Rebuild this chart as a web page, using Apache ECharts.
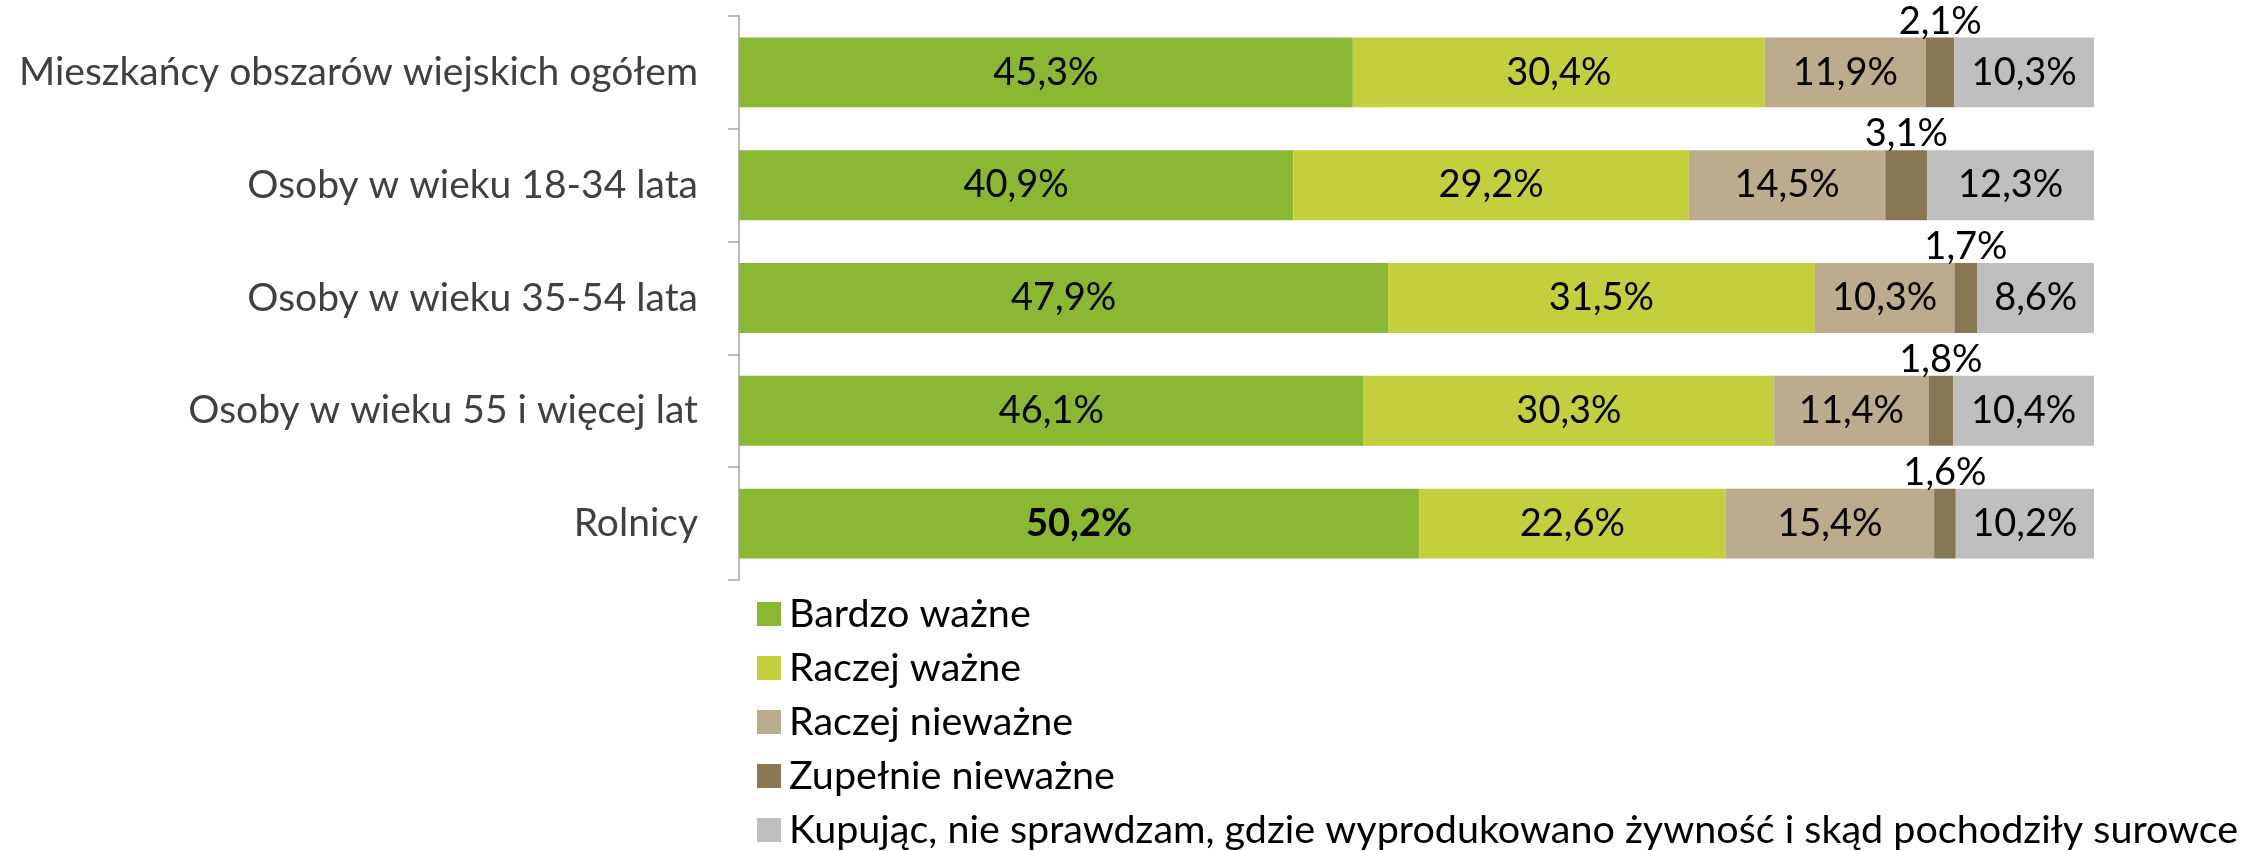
<!DOCTYPE html>
<html>
<head>
<meta charset="utf-8">
<title>Sprawdzanie pochodzenia żywności</title>
<script src="https://cdn.jsdelivr.net/npm/echarts@6/dist/echarts.min.js"></script>
<style>
  html, body { margin: 0; padding: 0; background: #ffffff; }
  #chart { width: 2245px; height: 851px; }
</style>
</head>
<body>
<div id="chart"></div>
<script>
// Groups of respondents (top to bottom)
const categories = [
  'Mieszkańcy obszarów wiejskich ogółem',
  'Osoby w wieku 18-34 lata',
  'Osoby w wieku 35-54 lata',
  'Osoby w wieku 55 i więcej lat',
  'Rolnicy'
];

// Answer categories (legend order)
const seriesNames = [
  'Bardzo ważne',
  'Raczej ważne',
  'Raczej nieważne',
  'Zupełnie nieważne',
  'Kupując, nie sprawdzam, gdzie wyprodukowano żywność i skąd pochodziły surowce'
];

// Shares of answers in % for each group
const bardzoWazne      = [45.3, 40.9, 47.9, 46.1, 50.2];
const raczejWazne      = [30.4, 29.2, 31.5, 30.3, 22.6];
const raczejNiewazne   = [11.9, 14.5, 10.3, 11.4, 15.4];
const zupelnieNiewazne = [2.1, 3.1, 1.7, 1.8, 1.6];
const nieSprawdzam     = [10.3, 12.3, 8.6, 10.4, 10.2];

const colors = ['#8AB833', '#C3CF3C', '#BAAC8C', '#877853', '#BFBFBF'];
const FONT = 'Lato';
const fmt = p => p.value.toFixed(1).replace('.', ',') + '%';

function makeSeries(name, values, color, idx) {
  const small = idx === 3;
  return {
    name: name,
    type: 'bar',
    stack: 'total',
    barCategoryGap: '38%',
    itemStyle: { color: color },
    emphasis: { disabled: true },
    label: {
      show: true,
      position: small ? 'top' : 'inside',
      distance: small ? -3 : 5,
      formatter: fmt,
      color: '#000000',
      fontFamily: FONT,
      fontSize: 38
    },
    data: values.map((v, i) => (idx === 0 && i === 4)
      ? { value: v, label: { fontWeight: 'bold' } }
      : v)
  };
}

const allValues = [bardzoWazne, raczejWazne, raczejNiewazne, zupelnieNiewazne, nieSprawdzam];

const chart = echarts.init(document.getElementById('chart'), null, { renderer: 'canvas' });
chart.setOption({
  animation: false,
  backgroundColor: '#ffffff',
  grid: { left: 739, right: 151, top: 16, bottom: 271, containLabel: false },
  xAxis: {
    type: 'value',
    min: 0,
    max: 100,
    show: false
  },
  yAxis: {
    type: 'category',
    inverse: true,
    data: categories,
    axisLine: { show: true, lineStyle: { color: '#A6A6A6', width: 1.5 } },
    axisTick: { show: true, length: 11, lineStyle: { color: '#A6A6A6', width: 1.5 } },
    axisLabel: {
      margin: 41,
      color: '#404040',
      fontFamily: FONT,
      fontSize: 39
    }
  },
  legend: {
    orient: 'vertical',
    left: 757,
    top: 594,
    height: 400,
    padding: 0,
    itemWidth: 24,
    itemHeight: 24,
    itemGap: 14,
    icon: 'rect',
    selectedMode: false,
    textStyle: {
      color: '#000000',
      fontFamily: FONT,
      fontSize: 39.5,
      padding: [0, 0, 0, 3]
    },
    data: seriesNames
  },
  series: seriesNames.map((n, i) => makeSeries(n, allValues[i], colors[i], i))
});
</script>
</body>
</html>
